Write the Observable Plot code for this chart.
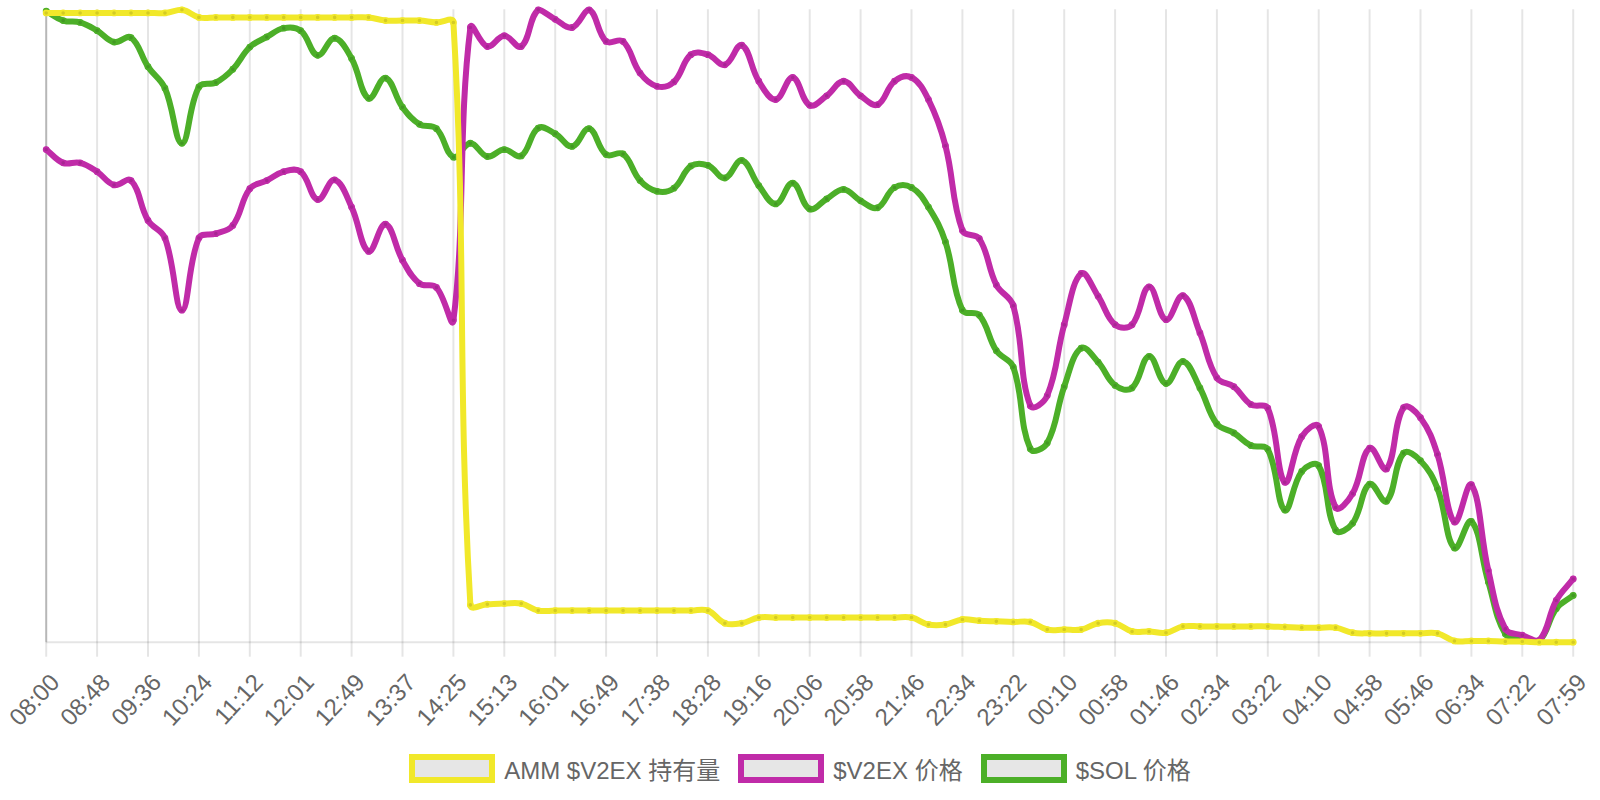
<!DOCTYPE html>
<html>
<head>
<meta charset="utf-8">
<script src="https://cdn.jsdelivr.net/npm/d3@7"></script>
<script src="https://cdn.jsdelivr.net/npm/@observablehq/plot@0.6"></script>
<style>
  html, body { margin: 0; padding: 0; background: #fff; }
  #wrap { position: relative; width: 1600px; height: 800px; }
  #legend {
    position: absolute; left: 0; top: 753px; width: 1600px; height: 30px;
    display: flex; justify-content: center; align-items: center;
    font-family: "Liberation Sans", Arial, "Noto Sans CJK SC", sans-serif;
    font-size: 24px; color: #666;
  }
  .item { display: flex; align-items: center; margin: 0 9px; white-space: nowrap; }
  .box { box-sizing: border-box; width: 86px; height: 29px; border: 6px solid; background: #e6e6e6; margin-right: 9px; }
</style>
</head>
<body>
<div id="wrap"><div id="chart"></div><div id="legend"></div></div>
<script>
// Tick labels (every 3rd sample)
const tickLabels = ["08:00","08:48","09:36","10:24","11:12","12:01","12:49","13:37","14:25","15:13","16:01","16:49","17:38","18:28","19:16","20:06","20:58","21:46","22:34","23:22","00:10","00:58","01:46","02:34","03:22","04:10","04:58","05:46","06:34","07:22","07:59"];

// Series values, each relative to its own (hidden) axis, 0..100
const ammHold = [99.5,99.5,99.5,99.5,99.5,99.5,99.5,99.5,100,
  98.8,98.8,98.8,98.8,98.8,98.8,98.8,98.8,98.8,98.8,98.8,
  98.3,98.3,98.3,98.0,98.0,
  5.9,6.0,6.1,6.1,
  5.0,5.0,5.0,5.0,5.0,5.0,5.0,5.0,5.0,5.0,5.0,
  3.0,3.0,
  3.9,3.9,3.9,3.9,3.9,3.9,3.9,3.9,3.9,3.9,
  2.8,2.8,3.6,3.4,3.3,3.2,3.2,
  2.0,2.0,2.0,3.0,3.0,1.7,1.7,1.5,
  2.5,2.5,2.5,2.5,2.5,2.5,2.4,2.3,2.3,2.3,1.5,
  1.4,1.4,1.4,1.4,1.4,0.2,0.2,0.2,0.1,0.1,0,0,0];

const v2exPrice = [77.9,75.8,75.8,74.4,72.3,73.0,66.7,63.9,52.5,63.9,
  64.6,65.9,71.7,73.0,74.4,74.4,70.0,73.1,68.8,61.8,
  66.1,60.4,56.7,56.1,50.9,97.2,94.2,95.9,94.2,100,
  98.5,97.2,100,95.0,95.0,90.0,87.9,88.6,92.9,92.9,
  91.3,94.4,88.7,85.8,89.3,84.9,86.4,88.7,86.4,85.0,
  88.7,89.3,85.8,78.5,65.1,63.8,56.5,53.2,37.4,39.0,
  50.2,58.3,54.7,50.2,50.2,56.2,51.0,54.8,48.9,41.8,
  40.4,37.6,37.0,25.3,32.5,34.1,21.3,23.5,30.7,27.4,
  37.1,35.5,29.7,19.0,24.9,11.3,2.1,1.1,0.3,6.6,
  10.0];

const solPrice = [99.8,98.3,98.0,96.7,94.9,95.6,91.0,87.6,78.9,87.8,
  88.5,90.6,94.1,95.7,97.1,96.7,92.8,95.5,92.3,86.0,
  89.2,84.6,81.9,81.2,76.7,78.9,76.8,77.9,76.9,81.3,
  80.4,78.4,81.2,77.1,77.2,73.0,71.3,71.8,75.3,75.4,
  73.4,76.2,72.2,69.3,72.6,68.5,70.1,71.6,69.8,68.7,
  71.9,71.9,68.8,63.3,52.5,51.7,46.1,43.5,30.6,31.5,
  40.4,46.5,44.3,40.6,40.2,45.2,40.9,44.4,40.2,34.5,
  33.1,31.1,30.5,20.9,27.0,27.9,17.7,18.8,25.0,22.3,
  29.9,28.7,24.3,14.9,19.1,9.5,1.3,0.4,0.2,5.3,
  7.4];

const seriesNames = ["AMM $V2EX 持有量", "$V2EX 价格", "$SOL 价格"];
const seriesColors = ["#f1e82a", "#c02ba8", "#4caf28"];

const W = 1600, H = 745;
const mL = 45.7, mR = 27.3, mT = 9.3, mB = H - 641.7;
const area = {left: mL, right: W - mR, top: mT, bottom: H - mB};

// Chart.js-style bezier spline (tension 0.4, control points capped to chart area)
function chartjsCurve(tension) {
  return function(context) {
    let pts = [];
    return {
      areaStart() {}, areaEnd() {},
      lineStart() { pts = []; },
      point(x, y) { pts.push([+x, +y]); },
      lineEnd() {
        const n = pts.length;
        if (!n) return;
        const cx = v => Math.max(area.left, Math.min(area.right, v));
        const cy = v => Math.max(area.top, Math.min(area.bottom, v));
        const cp = pts.map((p, i) => {
          const a = pts[Math.max(0, i - 1)], b = pts[Math.min(n - 1, i + 1)];
          const d01 = Math.hypot(p[0] - a[0], p[1] - a[1]);
          const d12 = Math.hypot(b[0] - p[0], b[1] - p[1]);
          let s01 = d01 / (d01 + d12), s12 = d12 / (d01 + d12);
          if (isNaN(s01)) s01 = 0;
          if (isNaN(s12)) s12 = 0;
          const fa = tension * s01, fb = tension * s12;
          return {
            px: cx(p[0] - fa * (b[0] - a[0])), py: cy(p[1] - fa * (b[1] - a[1])),
            nx: cx(p[0] + fb * (b[0] - a[0])), ny: cy(p[1] + fb * (b[1] - a[1]))
          };
        });
        context.moveTo(pts[0][0], pts[0][1]);
        for (let i = 1; i < n; i++) {
          context.bezierCurveTo(cp[i - 1].nx, cp[i - 1].ny, cp[i].px, cp[i].py, pts[i][0], pts[i][1]);
        }
      }
    };
  };
}

const tickIdx = tickLabels.map((_, k) => k * 3);
const curve = chartjsCurve(0.4);
const allSeries = [ammHold, v2exPrice, solPrice];

const seriesMarks = [];
// Chart.js draws the first dataset on top: draw in reverse order
for (let s = allSeries.length - 1; s >= 0; s--) {
  const vals = allSeries[s];
  seriesMarks.push(Plot.lineY(vals, {x: (d, i) => i, y: d => d, stroke: seriesColors[s], strokeWidth: 6, curve}));
  seriesMarks.push(Plot.dot(vals, {x: (d, i) => i, y: d => d, r: 2.6, fill: "rgba(0,0,0,0.12)", stroke: seriesColors[s], strokeWidth: 1.6}));
}

const chart = Plot.plot({
  width: W, height: H,
  marginLeft: mL, marginRight: mR, marginTop: mT, marginBottom: mB,
  style: {background: "#fff", fontFamily: "'Liberation Sans', Arial, sans-serif", overflow: "visible"},
  x: {domain: [0, allSeries[0].length - 1], axis: null},
  y: {domain: [0, 100], axis: null},
  marks: [
    Plot.gridX(tickIdx, {stroke: "#000", strokeOpacity: 0.1, strokeWidth: 2}),
    Plot.ruleX(tickIdx.slice(0, 1), {stroke: "#000", strokeOpacity: 0.2, strokeWidth: 2}),
    Plot.ruleY([0], {stroke: "#000", strokeOpacity: 0.1, strokeWidth: 2}),
    Plot.axisX(tickIdx, {tickSize: 15, stroke: "#000", strokeOpacity: 0.1, strokeWidth: 2, tickFormat: () => "", fill: "none"}),
    Plot.text(tickIdx, {x: d => d, frameAnchor: "bottom", text: (d, k) => tickLabels[k], rotate: -47,
      textAnchor: "end", lineAnchor: "middle", dx: 9, dy: 36, fontSize: 24, fill: "#666"}),
    ...seriesMarks
  ]
});
document.getElementById("chart").appendChild(chart);

const legend = document.getElementById("legend");
seriesNames.forEach((name, s) => {
  const it = document.createElement("div");
  it.className = "item";
  const b = document.createElement("span");
  b.className = "box";
  b.style.borderColor = seriesColors[s];
  const t = document.createElement("span");
  t.textContent = name;
  it.appendChild(b); it.appendChild(t);
  legend.appendChild(it);
});
</script>
</body>
</html>
